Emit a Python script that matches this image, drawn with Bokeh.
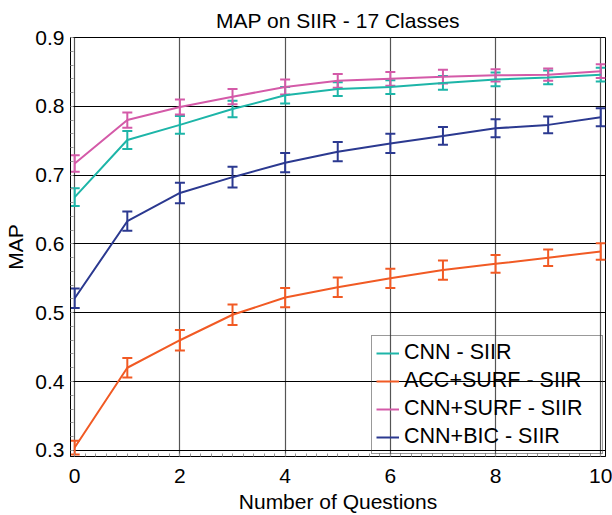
from bokeh.plotting import figure
from bokeh.models import (ColumnDataSource, Range1d, FixedTicker, Whisker, TeeHead,
                          Legend, LegendItem)
from bokeh.embed import file_html
from bokeh.resources import INLINE

# ---- data ----
questions = [0, 1, 2, 3, 4, 5, 6, 7, 8, 9, 10]

cnn = [0.668, 0.751, 0.773, 0.796, 0.816, 0.825, 0.828, 0.834, 0.839, 0.842, 0.846]
cnn_err = [0.013, 0.013, 0.013, 0.012, 0.012, 0.010, 0.010, 0.010, 0.010, 0.010, 0.010]

acc_surf = [0.304, 0.420, 0.460, 0.497, 0.522, 0.537, 0.550, 0.562, 0.571, 0.580, 0.589]
acc_surf_err = [0.010, 0.014, 0.015, 0.015, 0.014, 0.014, 0.014, 0.014, 0.013, 0.012, 0.012]

cnn_surf = [0.717, 0.780, 0.799, 0.814, 0.828, 0.837, 0.840, 0.843, 0.845, 0.846, 0.851]
cnn_surf_err = [0.012, 0.011, 0.011, 0.011, 0.011, 0.010, 0.010, 0.010, 0.009, 0.009, 0.010]

cnn_bic = [0.521, 0.633, 0.674, 0.697, 0.718, 0.734, 0.746, 0.757, 0.768, 0.773, 0.784]
cnn_bic_err = [0.014, 0.014, 0.015, 0.015, 0.014, 0.014, 0.014, 0.013, 0.013, 0.012, 0.013]

series_names = ["CNN - SIIR", "ACC+SURF - SIIR", "CNN+SURF - SIIR", "CNN+BIC - SIIR"]
series_values = [cnn, acc_surf, cnn_surf, cnn_bic]
series_errors = [cnn_err, acc_surf_err, cnn_surf_err, cnn_bic_err]
series_colors = ["#1db5a8", "#f15a24", "#d45aa8", "#2b3990"]

x_ticks = [0, 2, 4, 6, 8, 10]
y_ticks = [0.3, 0.4, 0.5, 0.6, 0.7, 0.8, 0.9]

FONT = "Liberation Sans"

p = figure(width=612, height=515, output_backend="svg", toolbar_location=None,
           x_range=Range1d(-0.08, 10.09), y_range=Range1d(0.291, 0.9),
           title="MAP on SIIR - 17 Classes",
           min_border_left=70, min_border_right=7, min_border_top=0, min_border_bottom=0)

p.title.align = "center"
p.title.text_font = FONT
p.title.text_font_size = "21px"
p.title.text_font_style = "normal"
p.title.text_color = "black"
p.title.standoff = 12

p.outline_line_color = "black"
p.outline_line_width = 1
p.background_fill_color = "white"
p.border_fill_color = "white"

for ax in (p.xaxis[0], p.yaxis[0]):
    ax.axis_line_color = "black"
    ax.major_tick_out = 0
    ax.major_tick_in = 0
    ax.minor_tick_out = 0
    ax.minor_tick_in = 3
    ax.minor_tick_line_color = "#999999"
    ax.major_label_text_font = FONT
    ax.major_label_text_font_size = "21px"
    ax.major_label_text_color = "black"
    ax.axis_label_text_font = FONT
    ax.axis_label_text_font_size = "21px"
    ax.axis_label_text_font_style = "normal"
    ax.axis_label_text_color = "black"

p.xaxis.ticker = FixedTicker(ticks=x_ticks, minor_ticks=[i * 0.2 for i in range(0, 51)])
p.yaxis.ticker = FixedTicker(ticks=y_ticks, minor_ticks=[0.3 + i * 0.02 for i in range(31)])
p.xaxis.axis_label = "Number of Questions"
p.yaxis.axis_label = "MAP"
p.xaxis.major_label_standoff = 12
p.xaxis.axis_label_standoff = 4
p.yaxis.major_label_standoff = 6
p.yaxis.axis_label_standoff = 5
p.yaxis.major_label_overrides = {t: f"{t:.1f}" for t in y_ticks}

p.xgrid.ticker = FixedTicker(ticks=x_ticks)
p.ygrid.ticker = FixedTicker(ticks=y_ticks)
p.xgrid.grid_line_color = "#555555"
p.xgrid.grid_line_width = 1.2
p.ygrid.grid_line_color = "black"
p.ygrid.grid_line_width = 1

items = []
for name, vals, errs, col in zip(series_names, series_values, series_errors, series_colors):
    src = ColumnDataSource(dict(x=questions, y=vals,
                                lo=[v - e for v, e in zip(vals, errs)],
                                hi=[v + e for v, e in zip(vals, errs)]))
    r = p.line("x", "y", source=src, line_color=col, line_width=2)
    w = Whisker(base="x", lower="lo", upper="hi", source=src,
                line_color=col, line_width=2,
                upper_head=TeeHead(size=10, line_color=col, line_width=2),
                lower_head=TeeHead(size=10, line_color=col, line_width=2))
    p.add_layout(w)
    items.append(LegendItem(label=name, renderers=[r]))

legend = Legend(items=items, location="bottom_right")
legend.background_fill_alpha = 0
legend.border_line_color = "#333333"
legend.border_line_width = 1
legend.label_text_font = FONT
legend.label_text_font_size = "21.5px"
legend.label_text_color = "black"
legend.glyph_width = 23
legend.label_standoff = 5
legend.label_width = 194
legend.label_height = 24
legend.padding = 4
legend.spacing = 3
legend.margin = 2
p.add_layout(legend)

open("out.html", "w").write(file_html(p, INLINE))
